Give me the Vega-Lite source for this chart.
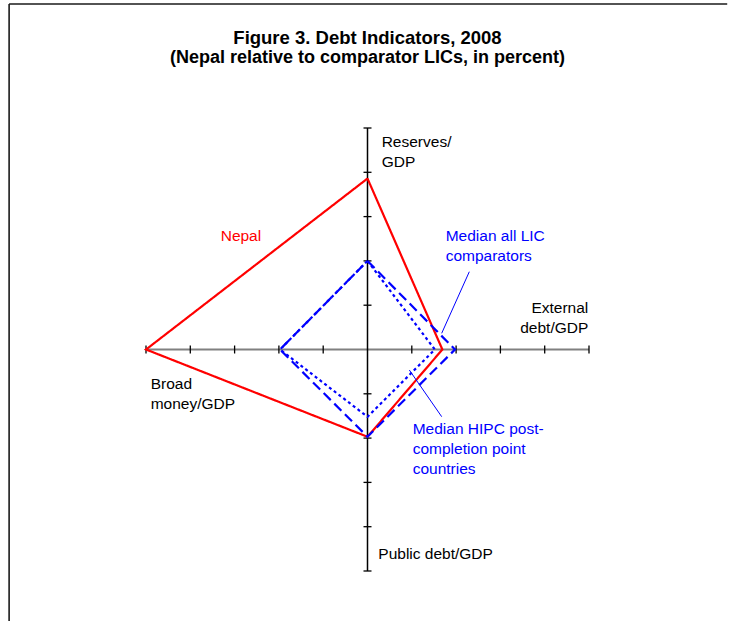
{
  "$schema": "https://vega.github.io/schema/vega-lite/v6.json",
  "width": 443,
  "height": 443,
  "autosize": {"type": "none"},
  "padding": {"left": 146, "top": 128, "right": 142, "bottom": 50},
  "background": "white",
  "config": {"view": {"stroke": null}, "font": "Liberation Sans"},
  "title": {
    "text": "Figure 3. Debt Indicators, 2008",
    "subtitle": "(Nepal relative to comparator LICs, in percent)",
    "anchor": "middle",
    "frame": "group",
    "font": "Liberation Sans",
    "fontSize": 18.5,
    "fontWeight": "bold",
    "color": "#000000",
    "subtitleFont": "Liberation Sans",
    "subtitleFontSize": 18,
    "subtitleFontWeight": "bold",
    "subtitleColor": "#000000",
    "subtitlePadding": 1,
    "offset": -63.8
  },
  "datasets": {
    "series": [
      {"series": "Nepal", "indicator": "Reserves/GDP", "order": 1, "x": 0, "y": 38.6},
      {"series": "Nepal", "indicator": "External debt/GDP", "order": 2, "x": 16.9, "y": 0},
      {"series": "Nepal", "indicator": "Public debt/GDP", "order": 3, "x": 0, "y": -19.7},
      {"series": "Nepal", "indicator": "Broad money/GDP", "order": 4, "x": -50, "y": 0},
      {"series": "Nepal", "indicator": "Reserves/GDP", "order": 5, "x": 0, "y": 38.6},
      {"series": "Median all LIC comparators", "indicator": "Reserves/GDP", "order": 1, "x": 0, "y": 20},
      {"series": "Median all LIC comparators", "indicator": "External debt/GDP", "order": 2, "x": 19.75, "y": 0},
      {"series": "Median all LIC comparators", "indicator": "Public debt/GDP", "order": 3, "x": 0, "y": -19.7},
      {"series": "Median all LIC comparators", "indicator": "Broad money/GDP", "order": 4, "x": -19.75, "y": 0},
      {"series": "Median all LIC comparators", "indicator": "Reserves/GDP", "order": 5, "x": 0, "y": 20},
      {"series": "Median HIPC post-completion point countries", "indicator": "Reserves/GDP", "order": 1, "x": 0, "y": 20},
      {"series": "Median HIPC post-completion point countries", "indicator": "External debt/GDP", "order": 2, "x": 15.2, "y": 0},
      {"series": "Median HIPC post-completion point countries", "indicator": "Public debt/GDP", "order": 3, "x": 0, "y": -15.2},
      {"series": "Median HIPC post-completion point countries", "indicator": "Broad money/GDP", "order": 4, "x": -19.75, "y": 0},
      {"series": "Median HIPC post-completion point countries", "indicator": "Reserves/GDP", "order": 5, "x": 0, "y": 20}
    ],
    "hticks": [
      {"x": -50, "y": 0}, {"x": -40, "y": 0}, {"x": -30, "y": 0}, {"x": -20, "y": 0}, {"x": -10, "y": 0},
      {"x": 10, "y": 0}, {"x": 20, "y": 0}, {"x": 30, "y": 0}, {"x": 40, "y": 0}, {"x": 50, "y": 0}
    ],
    "vticks": [
      {"x": 0, "y": -50}, {"x": 0, "y": -40}, {"x": 0, "y": -30}, {"x": 0, "y": -20}, {"x": 0, "y": -10},
      {"x": 0, "y": 10}, {"x": 0, "y": 20}, {"x": 0, "y": 30}, {"x": 0, "y": 40}, {"x": 0, "y": 50}
    ],
    "frame": [
      {"x": -80.9, "y": 78, "x2": -80.9, "y2": -62},
      {"x": -80.9, "y": 78, "x2": 81.2, "y2": 78}
    ],
    "leaders": [
      {"x": 22.98, "y": 17.56, "x2": 16.75, "y2": 3.66},
      {"x": 9.44, "y": -4.63, "x2": 16.75, "y2": -15.17}
    ],
    "axisNames": [
      {"label": "Reserves/\nGDP", "x": 3.2, "y": 45.6},
      {"label": "Public debt/GDP", "x": 2.44, "y": -47.36},
      {"label": "Broad\nmoney/GDP", "x": -48.94, "y": -8.98}
    ],
    "axisNamesRight": [
      {"label": "External\ndebt/GDP", "x": 49.84, "y": 8.17}
    ],
    "seriesLabels": [
      {"label": "Nepal", "series": "Nepal", "x": -33.14, "y": 24.56},
      {"label": "Median all LIC\ncomparators", "series": "Median all LIC comparators", "x": 17.65, "y": 24.56},
      {"label": "Median HIPC post-\ncompletion point\ncountries", "series": "Median HIPC post-completion point countries", "x": 10.2, "y": -19.07}
    ]
  },
  "encoding": {
    "x": {"type": "quantitative", "scale": {"domain": [-50, 50], "nice": false, "zero": false}, "axis": null},
    "y": {"type": "quantitative", "scale": {"domain": [-50, 50], "nice": false, "zero": false}, "axis": null}
  },
  "layer": [
    {
      "data": {"name": "frame"},
      "mark": {"type": "rule", "color": "#1a1a1a", "strokeWidth": 1.6},
      "encoding": {"x": {"field": "x"}, "y": {"field": "y"}, "x2": {"field": "x2"}, "y2": {"field": "y2"}}
    },
    {
      "data": {"values": [{"x": -50, "x2": 50, "y": 0}]},
      "mark": {"type": "rule", "color": "#808080", "strokeWidth": 2},
      "encoding": {"x": {"field": "x"}, "x2": {"field": "x2"}, "y": {"field": "y"}}
    },
    {
      "data": {"values": [{"x": 0, "y": -50, "y2": 50}]},
      "mark": {"type": "rule", "color": "#000000", "strokeWidth": 1.5},
      "encoding": {"x": {"field": "x"}, "y": {"field": "y"}, "y2": {"field": "y2"}}
    },
    {
      "data": {"name": "hticks"},
      "mark": {"type": "tick", "orient": "vertical", "size": 8, "thickness": 1.3, "color": "#000000", "opacity": 1},
      "encoding": {"x": {"field": "x"}, "y": {"field": "y"}}
    },
    {
      "data": {"name": "vticks"},
      "mark": {"type": "tick", "orient": "horizontal", "size": 8, "thickness": 1.3, "color": "#000000", "opacity": 1},
      "encoding": {"x": {"field": "x"}, "y": {"field": "y"}}
    },
    {
      "data": {"name": "series"},
      "mark": {"type": "line", "strokeJoin": "miter", "strokeCap": "butt"},
      "encoding": {
        "x": {"field": "x"},
        "y": {"field": "y"},
        "order": {"field": "order", "type": "quantitative"},
        "color": {
          "field": "series", "type": "nominal",
          "scale": {"domain": ["Nepal", "Median all LIC comparators", "Median HIPC post-completion point countries"], "range": ["#ff0000", "#0000ff", "#0000ff"]},
          "legend": null
        },
        "strokeDash": {
          "field": "series", "type": "nominal",
          "scale": {"domain": ["Nepal", "Median all LIC comparators", "Median HIPC post-completion point countries"], "range": [[1, 0], [10, 5], [3, 3]]},
          "legend": null
        },
        "strokeWidth": {
          "field": "series", "type": "nominal",
          "scale": {"domain": ["Nepal", "Median all LIC comparators", "Median HIPC post-completion point countries"], "range": [2.2, 2.2, 2.4]},
          "legend": null
        }
      }
    },
    {
      "data": {"name": "leaders"},
      "mark": {"type": "rule", "color": "#0000ff", "strokeWidth": 1},
      "encoding": {"x": {"field": "x"}, "y": {"field": "y"}, "x2": {"field": "x2"}, "y2": {"field": "y2"}}
    },
    {
      "data": {"name": "axisNames"},
      "mark": {"type": "text", "align": "left", "baseline": "alphabetic", "lineBreak": "\n", "lineHeight": 19.5, "fontSize": 15.5, "font": "Liberation Sans", "color": "#000000"},
      "encoding": {"x": {"field": "x"}, "y": {"field": "y"}, "text": {"field": "label"}}
    },
    {
      "data": {"name": "axisNamesRight"},
      "mark": {"type": "text", "align": "right", "baseline": "alphabetic", "lineBreak": "\n", "lineHeight": 19.5, "fontSize": 15.5, "font": "Liberation Sans", "color": "#000000"},
      "encoding": {"x": {"field": "x"}, "y": {"field": "y"}, "text": {"field": "label"}}
    },
    {
      "data": {"name": "seriesLabels"},
      "mark": {"type": "text", "align": "left", "baseline": "alphabetic", "lineBreak": "\n", "lineHeight": 20, "fontSize": 15.5, "font": "Liberation Sans"},
      "encoding": {
        "x": {"field": "x"},
        "y": {"field": "y"},
        "text": {"field": "label"},
        "color": {
          "field": "series", "type": "nominal",
          "scale": {"domain": ["Nepal", "Median all LIC comparators", "Median HIPC post-completion point countries"], "range": ["#ff0000", "#0000ff", "#0000ff"]},
          "legend": null
        }
      }
    }
  ]
}
